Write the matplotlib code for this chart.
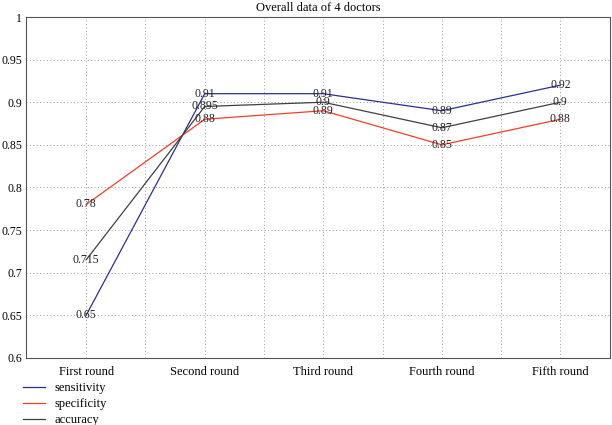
import matplotlib
matplotlib.use("Agg")
import matplotlib.pyplot as plt
import numpy as np

categories = ["First round", "Second round", "Third round", "Fourth round", "Fifth round"]
sensitivity = [0.65, 0.91, 0.91, 0.89, 0.92]
specificity = [0.78, 0.88, 0.89, 0.85, 0.88]
accuracy = [0.715, 0.895, 0.9, 0.87, 0.9]
series_labels = ["sensitivity", "specificity", "accuracy"]
colors = ["#2b2f8f", "#f0402a", "#404040"]

plt.rcParams['font.family'] = ['Liberation Serif', 'DejaVu Serif']

fig = plt.figure(figsize=(6.12, 4.25), dpi=100)
ax = fig.add_axes([0.042, 0.158, 0.955, 0.802])

x = np.arange(len(categories))
handles = []
for vals, lab, col in zip([sensitivity, specificity, accuracy], series_labels, colors):
    h, = ax.plot(x, vals, color=col, lw=0.9, label=lab)
    handles.append(h)
    for xi, v in zip(x, vals):
        ax.text(xi, v, f"{v:g}", ha="center", va="center", fontsize=8.5, color="#222222")

ax.set_xlim(-0.51, 4.42)
ax.set_ylim(0.6, 1.0)
ax.set_xticks(x)
ax.set_xticklabels(categories, fontsize=9)
ax.set_xticks(np.arange(0.5, 4.01, 1.0), minor=True)
yt = np.arange(0.6, 1.001, 0.05)
ax.set_yticks(yt)
ax.set_yticklabels([f"{v:g}" for v in yt], fontsize=8.5)
ax.grid(True, which="both", axis="x", linestyle=(0, (1, 2.5)), color="#999999", lw=0.7)
ax.grid(True, which="major", axis="y", linestyle=(0, (1, 2.5)), color="#999999", lw=0.7)
ax.tick_params(which="both", length=0)
ax.tick_params(axis="y", pad=2.5)
ax.tick_params(axis="x", pad=6)
for s in ax.spines.values():
    s.set_color("#555555")
    s.set_linewidth(0.8)
ax.set_title("Overall data of 4 doctors", fontsize=9, pad=4)

fig.legend(handles=handles, labels=series_labels, loc="upper left",
           bbox_to_anchor=(0.03, 0.112), frameon=False, fontsize=9,
           handlelength=1.7, handletextpad=0.8, labelspacing=0.3, borderaxespad=0)

fig.savefig("out.png", dpi=100)
